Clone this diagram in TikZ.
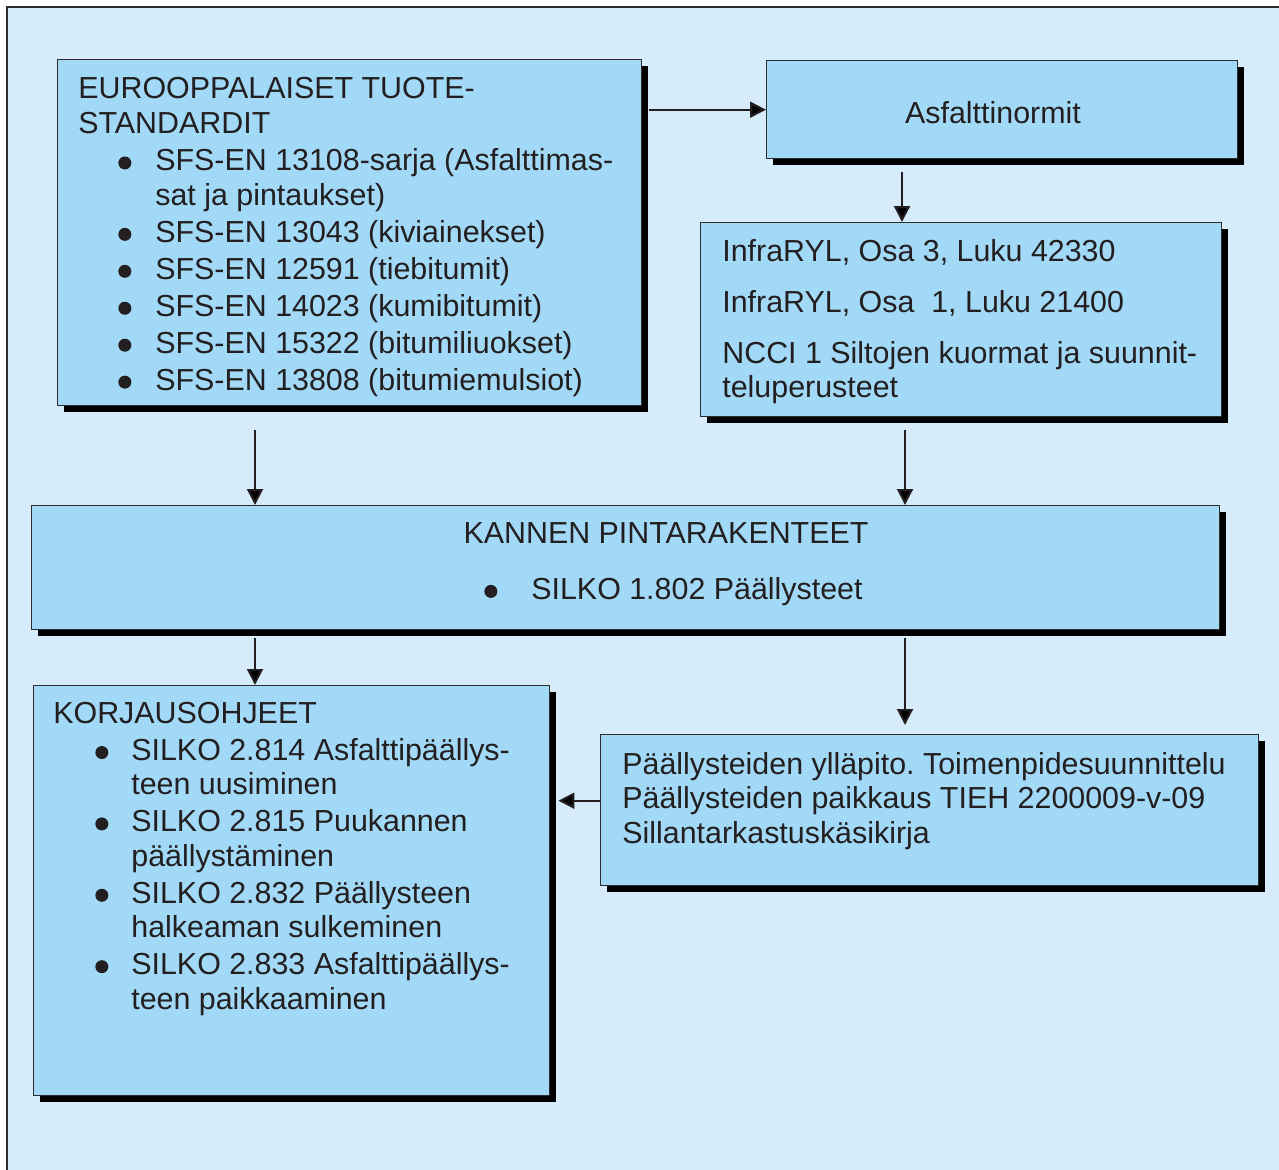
\documentclass[tikz,border=0pt]{standalone}
\usepackage{fontspec}
\setmainfont{Liberation Sans}
\usepackage{xcolor}
\usepackage{tikz}
\usetikzlibrary{arrows.meta, positioning, calc, shadows}
\definecolor{SilkoBg}{RGB}{214, 236, 251}
\definecolor{SilkoBox}{RGB}{162, 217, 246}
\definecolor{SilkoText}{RGB}{35, 31, 32}
\definecolor{SilkoLine}{RGB}{45, 45, 45}
\newcommand{\bul}[2]{\hspace*{#1}\makebox[#2][l]{\tikz[baseline=0pt]\fill[SilkoText] (0.13cm,0.16cm) circle (0.13cm);}}

\begin{document}
\begin{tikzpicture}[
    box/.style={draw=SilkoLine, line width=0.8pt, fill=SilkoBox, anchor=north west, inner sep=0pt,
      drop shadow={shadow xshift=0.13cm, shadow yshift=-0.12cm, fill=black, opacity=1}},
    txt/.style={anchor=north west, inner sep=0pt, align=left, text=SilkoText,
      font=\fontsize{17.3}{19.6}\selectfont\frenchspacing},
    arr/.style={draw=SilkoText, line width=1.2pt, -{Triangle[length=0.32cm, width=0.32cm]}}]
  \useasboundingbox (0,0) rectangle (25.58,-23.38);
  \draw[fill=SilkoBg, draw=SilkoLine, line width=1pt] (0.14,-0.14) rectangle (27,-25);

  \node[box, minimum width=11.68cm, minimum height=6.92cm] (eur) at (1.14,-1.18) {};
  \node[box, minimum width=9.42cm, minimum height=1.96cm] (asf) at (15.32,-1.20) {};
  \node[box, minimum width=10.42cm, minimum height=3.88cm] (infra) at (14.00,-4.44) {};
  \node[box, minimum width=23.76cm, minimum height=2.48cm] (kansi) at (0.62,-10.10) {};
  \node[box, minimum width=10.32cm, minimum height=8.20cm] (korj) at (0.66,-13.70) {};
  \node[box, minimum width=13.16cm, minimum height=3.02cm] (yllap) at (12.00,-14.68) {};

  \node[txt] (eurtxt) at (1.56,-1.54) {EUROOPPALAISET TUOTE-\\STANDARDIT\\[0.07cm]
    \bul{0.80cm}{0.74cm}SFS-EN 13108-sarja (Asfalttimas-\\
    \hspace*{1.54cm}sat ja pintaukset)\\[0.05cm]
    \bul{0.80cm}{0.74cm}SFS-EN 13043 (kiviainekset)\\[0.05cm]
    \bul{0.80cm}{0.74cm}SFS-EN 12591 (tiebitumit)\\[0.05cm]
    \bul{0.80cm}{0.74cm}SFS-EN 14023 (kumibitumit)\\[0.05cm]
    \bul{0.80cm}{0.74cm}SFS-EN 15322 (bitumiliuokset)\\[0.05cm]
    \bul{0.80cm}{0.74cm}SFS-EN 13808 (bitumiemulsiot)};
  \node[txt, anchor=center] (asftxt) at (19.86,-2.26) {Asfalttinormit};
  \node[txt] (infratxt) at (14.44,-4.78) {InfraRYL, Osa 3, Luku 42330\\[0.33cm]
    InfraRYL, Osa~~1, Luku 21400\\[0.33cm]
    NCCI 1 Siltojen kuormat ja suunnit-\\teluperusteet};
  \node[txt, anchor=north] (kansitxt) at (13.32,-10.44) {KANNEN PINTARAKENTEET};
  \node[txt] (kansibul) at (9.68,-11.54) {\bul{0cm}{0.94cm}SILKO 1.802 Päällysteet};
  \node[txt] (korjtxt) at (1.06,-14.04) {KORJAUSOHJEET\\[0.05cm]
    \bul{0.84cm}{0.72cm}SILKO 2.814 Asfalttipäällys-\\
    \hspace*{1.56cm}teen uusiminen\\[0.05cm]
    \bul{0.84cm}{0.72cm}SILKO 2.815 Puukannen\\
    \hspace*{1.56cm}päällystäminen\\[0.05cm]
    \bul{0.84cm}{0.72cm}SILKO 2.832 Päällysteen\\
    \hspace*{1.56cm}halkeaman sulkeminen\\[0.05cm]
    \bul{0.84cm}{0.72cm}SILKO 2.833 Asfalttipäällys-\\
    \hspace*{1.56cm}teen paikkaaminen};
  \node[txt] (yllaptxt) at (12.44,-15.04) {Päällysteiden ylläpito. Toimenpidesuunnittelu\\
    Päällysteiden paikkaus TIEH 2200009-v-09\\
    Sillantarkastuskäsikirja};

  \coordinate (a1) at (5.10,-8.60);
  \coordinate (a2) at (18.10,-8.60);
  \coordinate (a3) at (5.10,-12.76);
  \coordinate (a4) at (18.10,-12.76);
  \coordinate (a5) at (18.04,-3.44);
  \draw[arr, shorten <=0.13cm] (eur.east |- asf.west) -- (asf.west);
  \draw[arr] (a5) -- (a5 |- infra.north);
  \draw[arr] (a1) -- (a1 |- kansi.north);
  \draw[arr] (a2) -- (a2 |- kansi.north);
  \draw[arr] (a3) -- (a3 |- korj.north);
  \draw[arr, shorten >=0.18cm] (a4) -- (a4 |- yllap.north);
  \draw[arr, shorten >=0.16cm] ([yshift=0.19cm]yllap.west) -- ([yshift=0.19cm]yllap.west -| korj.east);
\end{tikzpicture}
\end{document}
